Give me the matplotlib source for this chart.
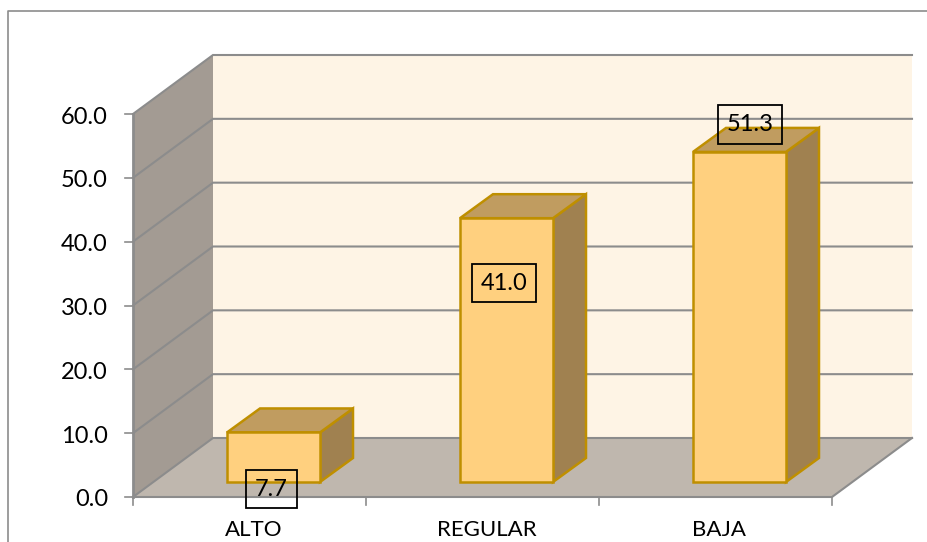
import matplotlib
matplotlib.use("Agg")
import matplotlib.pyplot as plt
from matplotlib.patches import Polygon, Rectangle

categorias = ["ALTO", "REGULAR", "BAJA"]
valores = [7.7, 41.0, 51.3]
etiquetas = ["7.7", "41.0", "51.3"]
ticks_y = [0, 10, 20, 30, 40, 50, 60]

W, H = 928, 542
plt.rcParams["font.family"] = ["Lato", "DejaVu Sans"]

fig = plt.figure(figsize=(W / 100, H / 100), dpi=100, facecolor="white")
# plano frontal del grafico, en pixeles de la imagen
x0, x1, y0, y1 = 133, 832, 497, 114
ax = fig.add_axes([x0 / W, 1 - y0 / H, (x1 - x0) / W, (y0 - y1) / H])
ax.set_xlim(0, 3)
ax.set_ylim(0, 60)
ax.axis("off")

# profundidad 3D en unidades de datos
ux = (x1 - x0) / 3
uy = (y0 - y1) / 60
dx = 80 / ux
dy = 59 / uy

GRID = "#8c8c8c"
# paredes
ax.add_patch(Polygon([(dx, dy), (3 + dx, dy), (3 + dx, 60 + dy), (dx, 60 + dy)], fc="#fef4e5", ec="none", clip_on=False, zorder=1))
ax.add_patch(Polygon([(0, 0), (dx, dy), (dx, 60 + dy), (0, 60)], fc="#a39b93", ec="none", clip_on=False, zorder=1))
ax.add_patch(Polygon([(0, 0), (3, 0), (3 + dx, dy), (dx, dy)], fc="#bfb7ae", ec="none", clip_on=False, zorder=1))

# rejilla
for t in ticks_y:
    ax.plot([0, dx, 3 + dx], [t, t + dy, t + dy], color=GRID, lw=1.5, clip_on=False, zorder=2, solid_joinstyle="miter")
    ax.plot([-8 / ux, 0], [t, t], color=GRID, lw=1.2, clip_on=False, zorder=2)
    ax.text(-25 / ux, t - 3 / uy, "%.1f" % t, ha="right", va="center", fontsize=17, color="black", clip_on=False)
ax.plot([0, 0], [0, 60], color=GRID, lw=2, clip_on=False, zorder=2)
ax.plot([0, 3, 3 + dx], [0, 0, dy], color=GRID, lw=1.5, clip_on=False, zorder=2)
for i in range(4):
    ax.plot([i, i], [0, -8 / uy], color=GRID, lw=1.2, clip_on=False, zorder=2)

# barras
ancho = 93 / ux
fondo = 33 / ux
fondo_y = 24 / uy
base_y = 15 / uy
BORDE = "#bf8f00"
for i, v in enumerate(valores):
    xa = i + 0.5 - ancho / 2 + 24 / ux
    xb = xa + ancho
    ya = base_y
    yb = base_y + v * 1.008
    ax.add_patch(Polygon([(xb, ya), (xb + fondo, ya + fondo_y), (xb + fondo, yb + fondo_y), (xb, yb)],
                         fc="#a08150", ec=BORDE, lw=1.8, zorder=3, joinstyle="miter"))
    ax.add_patch(Polygon([(xa, yb), (xb, yb), (xb + fondo, yb + fondo_y), (xa + fondo, yb + fondo_y)],
                         fc="#c09c60", ec=BORDE, lw=1.8, zorder=3, joinstyle="miter"))
    ax.add_patch(Rectangle((xa, ya), ancho, yb - ya, fc="#ffd07f", ec=BORDE, lw=1.8, zorder=4))
    ax.text(i + 0.5 + 4 / ux, -33 / uy, categorias[i], ha="center", va="center", fontsize=16, clip_on=False)

# etiquetas de datos con caja, colocadas a mano en el original
desp_x = [22, 21.5, 34.5]
desp_y = [489, 283, 124.5]
for i, e in enumerate(etiquetas):
    ax.text(i + 0.5 + desp_x[i] / ux, (y0 - desp_y[i]) / uy, e, ha="center", va="center", fontsize=17, zorder=6, clip_on=False,
            bbox=dict(boxstyle="square,pad=0.38", fc="none", ec="black", lw=1.3))

# borde exterior
fig.add_artist(plt.Line2D([8 / W, 8 / W, 1], [0, 1 - 11 / H, 1 - 11 / H], color="#8c8c8c", lw=1.2))

fig.savefig("out.png", dpi=100)
